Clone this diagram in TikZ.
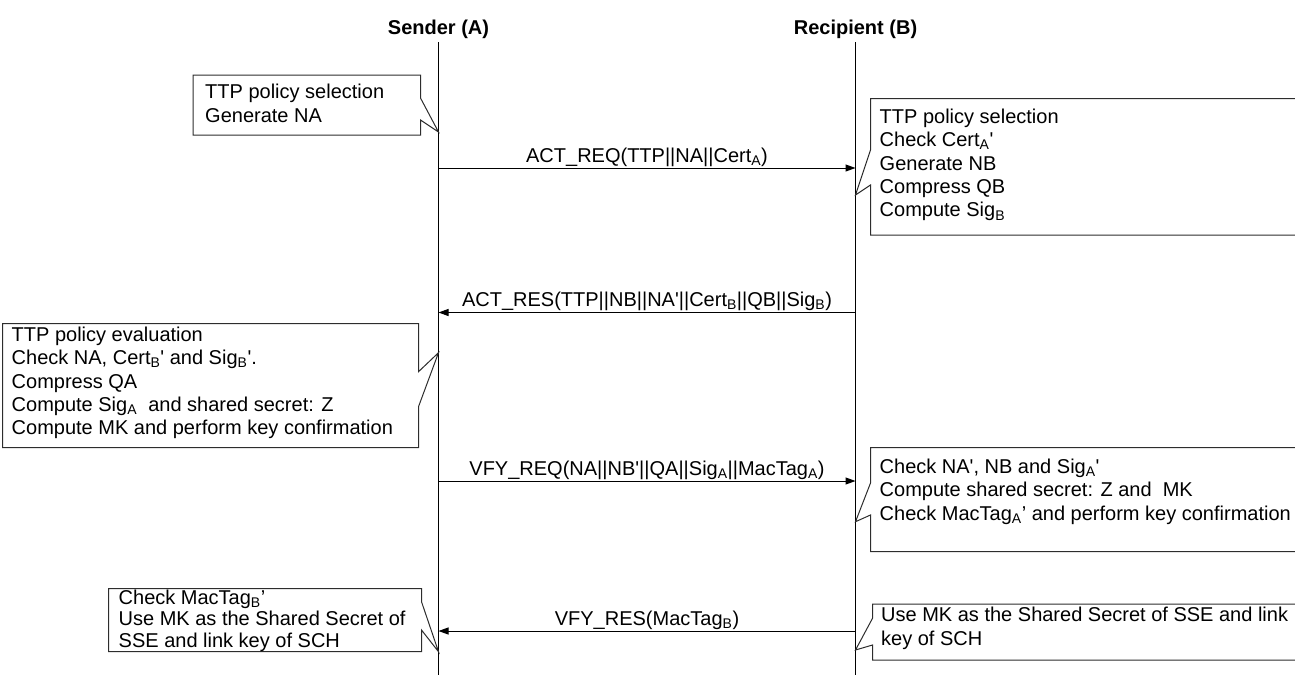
\documentclass[tikz,border=0pt]{standalone}
\usepackage{fontspec}
\setmainfont{Liberation Sans}
\usepackage{xcolor}
\usepackage{tikz}
\usetikzlibrary{arrows.meta, positioning, calc}
\definecolor{linecolor}{RGB}{0,0,0}
\definecolor{boxcolor}{RGB}{45,45,45}
\newcommand{\tq}{\textquotesingle}

\begin{document}
\begin{tikzpicture}[
    x=1pt, y=-1pt,
    font=\fontsize{20}{23.4}\selectfont,
    party/.style={font=\fontsize{20}{23.4}\selectfont\bfseries, inner sep=0pt, anchor=base},
    lifeline/.style={draw=linecolor, line width=1pt},
    note/.style={anchor=north west, align=left, inner sep=0pt, execute at begin node=\strut},
    callout/.style={draw=boxcolor, line width=1pt, line join=miter},
    msg/.style={-{Triangle[length=10pt, width=7pt]}, line width=1pt, draw=linecolor},
    msglabel/.style={anchor=base, yshift=6pt, inner sep=0pt}
]
    \useasboundingbox (0,0) rectangle (1295,675);

    % Parties and lifelines
    \node[party] (sender) at (438.5,34) {Sender (A)};
    \node[party] (recipient) at (855.5,34) {Recipient (B)};
    \coordinate (senderTop) at (438.5,42);
    \coordinate (senderEnd) at (438.5,675);
    \coordinate (recipientTop) at (855.5,42);
    \coordinate (recipientEnd) at (855.5,675);
    \draw[lifeline] (senderTop) -- (senderEnd);
    \draw[lifeline] (recipientTop) -- (recipientEnd);

    % Messages
    \coordinate (actreqA) at (438.5,168);
    \coordinate (actreqB) at (855.5,168);
    \draw[msg] (actreqA) -- node[msglabel] {ACT\_REQ(TTP||NA||Cert\textsubscript{A})} (actreqB);

    \coordinate (actresB) at (855.5,312.5);
    \coordinate (actresA) at (438.5,312.5);
    \draw[msg] (actresB) -- node[msglabel] {ACT\_RES(TTP||NB||NA\tq||Cert\textsubscript{B}||QB||Sig\textsubscript{B})} (actresA);

    \coordinate (vfyreqA) at (438.5,481);
    \coordinate (vfyreqB) at (855.5,481);
    \draw[msg] (vfyreqA) -- node[msglabel] {VFY\_REQ(NA||NB\tq||QA||Sig\textsubscript{A}||MacTag\textsubscript{A})} (vfyreqB);

    \coordinate (vfyresB) at (855.5,631);
    \coordinate (vfyresA) at (438.5,631);
    \draw[msg] (vfyresB) -- node[msglabel] {VFY\_RES(MacTag\textsubscript{B})} (vfyresA);

    % Callouts on the sender side
    \coordinate (tipA1) at (438.5,132);
    \draw[callout] (193,75) -- (420.5,75) -- (420.5,98) -- (tipA1) -- (420.5,120) -- (420.5,135) -- (193,135) -- cycle;
    \node[note] (noteA1) at (205,84.3) {TTP policy selection\\Generate NA};

    \coordinate (tipA2) at (438.5,352.7);
    \draw[callout] (2.5,323.5) -- (418.5,323.5) -- (418.5,371.7) -- (tipA2) -- (418.5,406.7) -- (418.5,447.5) -- (2.5,447.5) -- cycle;
    \node[note] (noteA2) at (11.5,326.6) {TTP policy evaluation\\Check NA, Cert\textsubscript{B}\tq{} and Sig\textsubscript{B}\tq.\\Compress QA\\Compute Sig\textsubscript{A}~ and shared secret: Z\\Compute MK and perform key confirmation};

    \coordinate (tipA3) at (438.5,651.7);
    \draw[callout] (108.5,588.5) -- (421.5,588.5) -- (421.5,601.7) -- (tipA3) -- (421.5,630) -- (421.5,651.7) -- (108.5,651.7) -- cycle;
    \node[note, font=\fontsize{20}{21.5}\selectfont] (noteA3) at (118.5,589.3) {Check MacTag\textsubscript{B}'\\Use MK as the Shared Secret of\\SSE and link key of SCH};

    % Callouts on the recipient side
    \coordinate (tipB1) at (855.5,195);
    \draw[callout] (1310,98.5) -- (870.5,98.5) -- (870.5,150) -- (tipB1) -- (870.5,185) -- (870.5,235) -- (1310,235);
    \node[note] (noteB1) at (879.5,108.6) {TTP policy selection\\Check Cert\textsubscript{A}\tq\\Generate NB\\Compress QB\\Compute Sig\textsubscript{B}};

    \coordinate (tipB2) at (855.5,521.7);
    \draw[callout] (1310,447.5) -- (870.5,447.5) -- (870.5,483) -- (tipB2) -- (870.5,515) -- (870.5,551.7) -- (1310,551.7);
    \node[note] (noteB2) at (879.5,458.6) {Check NA\tq, NB and Sig\textsubscript{A}\tq\\Compute shared secret: Z and~ MK\\Check MacTag\textsubscript{A}' and perform key confirmation};

    \coordinate (tipB3) at (855.5,650);
    \draw[callout] (1310,604) -- (872.5,604) -- (872.5,618.3) -- (tipB3) -- (872.5,645) -- (872.5,660) -- (1310,660);
    \node[note] (noteB3) at (881,606.9) {Use MK as the Shared Secret of SSE and link\\key of SCH};
\end{tikzpicture}
\end{document}
